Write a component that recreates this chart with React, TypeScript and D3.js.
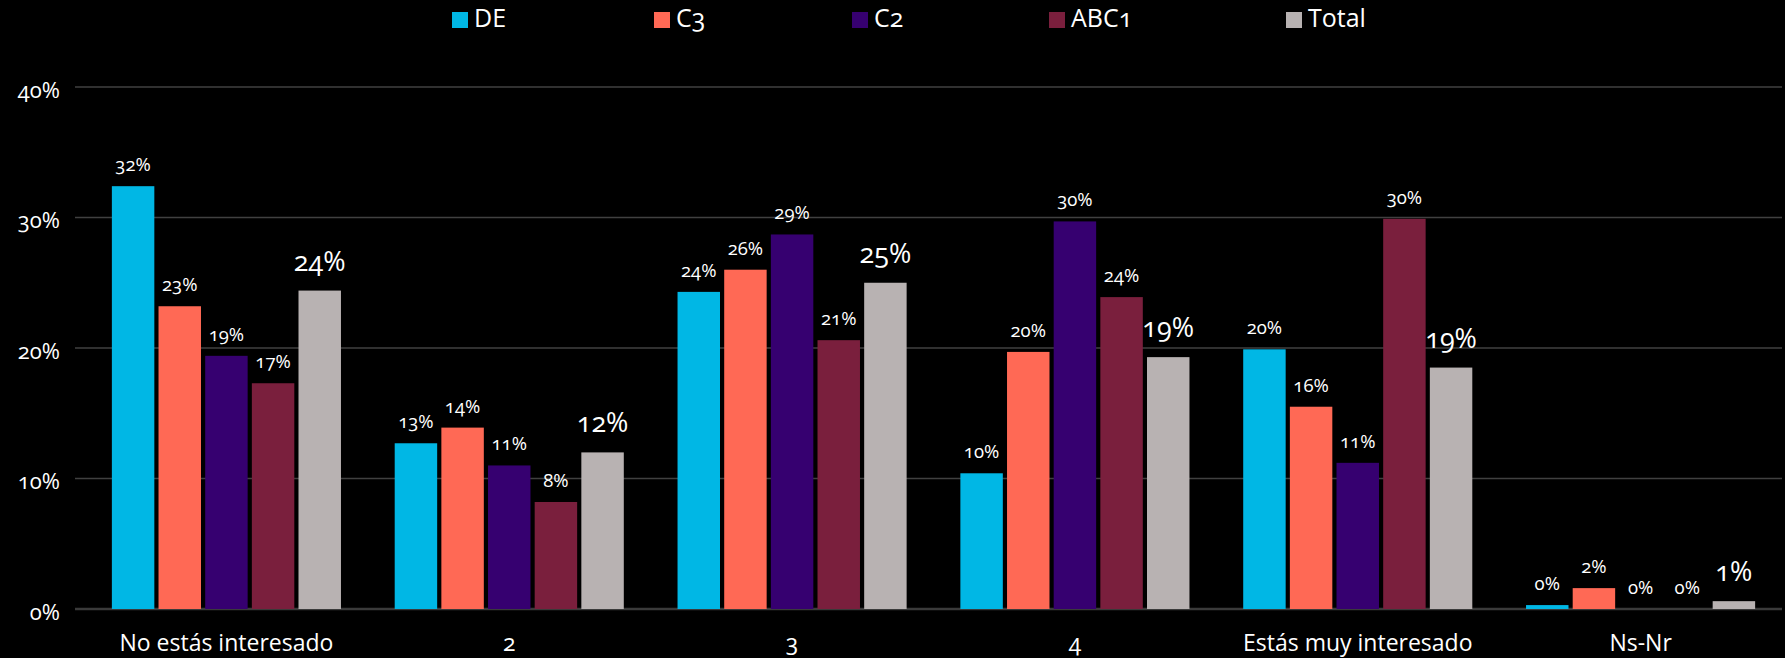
import React from 'react';
import * as d3 from 'd3';

const categories = ['No estás interesado', '2', '3', '4', 'Estás muy interesado', 'Ns-Nr'];
const seriesNames = ['DE', 'C3', 'C2', 'ABC1', 'Total'];

const deValues = [0.324, 0.127, 0.243, 0.104, 0.199, 0.003];
const c3Values = [0.232, 0.139, 0.26, 0.197, 0.155, 0.016];
const c2Values = [0.194, 0.11, 0.287, 0.297, 0.112, 0];
const abc1Values = [0.173, 0.082, 0.206, 0.239, 0.299, 0];
const totalValues = [0.244, 0.12, 0.25, 0.193, 0.185, 0.006];

const yTicks = [0, 0.1, 0.2, 0.3, 0.4];

const colors = ['#00B7E5', '#FF6955', '#360070', '#7A1F3D', '#B8B2B2'];
const legendX = [452, 654, 852, 1049, 1286];

const W = 1785;
const H = 658;
const FONT = '"Open Sans", "DejaVu Sans", sans-serif';
const numStyle = { fontVariantNumeric: 'oldstyle-nums' } as React.CSSProperties;

export default function App() {
  const allValues = [deValues, c3Values, c2Values, abc1Values, totalValues];

  const x0 = d3.scaleBand<string>()
    .domain(categories)
    .range([85, 1782])
    .paddingInner(0.19)
    .paddingOuter(0.095);

  const x1 = d3.scaleBand<string>()
    .domain(seriesNames)
    .range([0, x0.bandwidth()])
    .paddingInner(0.09);

  const y = d3.scaleLinear().domain([0, 0.4]).range([609, 87]);
  const fmt = d3.format('.0%');

  return (
    <svg width={W} height={H} style={{ position: 'fixed', left: 0, top: 0, display: 'block', background: '#000' }}>
      <rect x={0} y={0} width={W} height={H} fill="#000" />

      {/* gridlines + y labels */}
      {yTicks.map(t => (
        <g key={t}>
          <line x1={75} x2={1782} y1={y(t)} y2={y(t)}
            stroke={t === 0 ? '#3a3a3a' : '#404040'} strokeWidth={t === 0 ? 2.5 : 1.5} />
          <text x={60} y={y(t) + 5} textAnchor="end" dominantBaseline="middle" style={numStyle}
            fill="#fff" fontFamily={FONT} fontSize={22}>{fmt(t)}</text>
        </g>
      ))}

      {/* bars */}
      {categories.map((c, ci) => (
        <g key={c} transform={`translate(${x0(c)},0)`}>
          {seriesNames.map((s, si) => {
            const v = allValues[si][ci];
            const bx = x1(s) as number;
            const bw = x1.bandwidth();
            const isTotal = s === 'Total';
            return (
              <g key={s}>
                {v > 0 && (
                  <rect x={bx} y={y(v)} width={bw} height={y(0) - y(v)} fill={colors[si]} />
                )}
                <text x={bx + bw / 2} y={y(v) - (isTotal ? 20 : 15)} textAnchor="middle" style={numStyle}
                  fill="#fff" fontFamily={FONT} fontSize={isTotal ? 27 : 18.5}>
                  {fmt(v)}
                </text>
              </g>
            );
          })}
          <text x={x0.bandwidth() / 2} y={651} textAnchor="middle" fill="#fff" style={numStyle}
            fontFamily={FONT} fontSize={23}>{c}</text>
        </g>
      ))}

      {/* legend */}
      {seriesNames.map((s, i) => (
        <g key={s} transform={`translate(${legendX[i]},12)`}>
          <rect x={0} y={0} width={16} height={16} fill={colors[i]} />
          <text x={22} y={8} dominantBaseline="middle" fill="#fff" fontFamily={FONT} fontSize={25} style={numStyle}>
            {s}
          </text>
        </g>
      ))}
    </svg>
  );
}
